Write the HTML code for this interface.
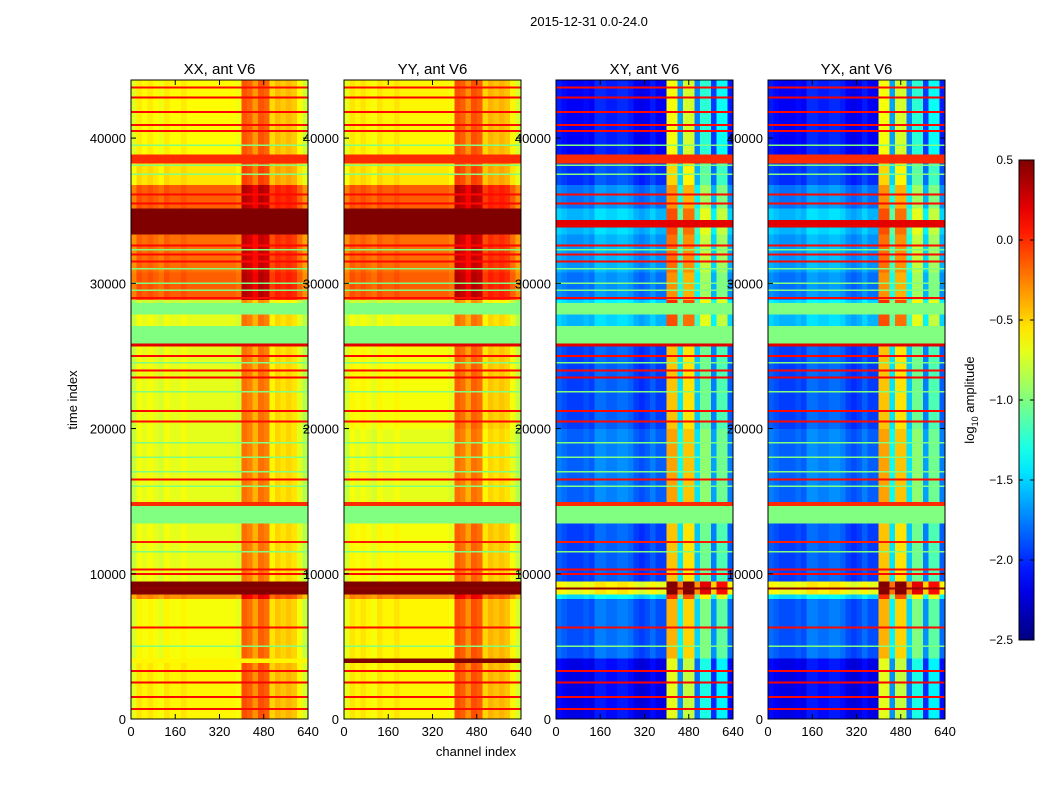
<!DOCTYPE html>
<html><head><meta charset="utf-8">
<style>
body{margin:0;background:#fff;}
svg{display:block;font-family:"Liberation Sans",sans-serif;}
</style></head>
<body>
<svg id="fig" width="1050" height="800" xmlns="http://www.w3.org/2000/svg">
<text x="589" y="26" text-anchor="middle" font-size="13">2015-12-31 0.0-24.0</text>
</svg>
<script>
// ---- data ----
const panelTitles = ["XX, ant V6","YY, ant V6","XY, ant V6","YX, ant V6"];
const panelKinds = ["xx","yy","cr","cr"];
const xTicks = [0,160,320,480,640];
const yTicks = [0,10000,20000,30000,40000];
const cbTicks = [0.5,0.0,-0.5,-1.0,-1.5,-2.0,-2.5];
const cbLabels = ["0.5","0.0","\u22120.5","\u22121.0","\u22121.5","\u22122.0","\u22122.5"];
// column offsets, 32 bins of 20 channels
const coCols = [-0.1,0.05,0,0.05,0,-0.05,0.05,0,0,0.05,0,0,0,0,0,0,0,0,0,-0.05,0.5,0.45,0.3,0.5,0.45,0.1,0.2,0.15,0.2,0.15,0,-0.15];
const crCols = [0.1,0.05,0,0,0,0.05,0,0.15,0.15,0.1,0.1,0.15,0.15,0.1,0,-0.05,0,0.1,0,0,1.5,1.5,0.5,1.4,1.4,0.4,0.9,0.9,0.2,0.8,0.8,0.1];
// time bands: start, end
const bandStart = [0,3900,4200,8300,8600,9500,13500,14700,15000,20000,25700,25900,27100,27900,28700,28900,30800,33400,33900,34400,35200,36800,38300,38900];
const bandEnd   = [3900,4200,8300,8600,9500,13500,14700,15000,20000,25700,25900,27100,27900,28700,28900,30800,33400,33900,34400,35200,36800,38300,38900,44000];
const bandXX    = [-0.6,-0.6,-0.65,-0.3,0.5,-0.7,-1.0,0,-0.7,-0.7,0.2,-1.0,-0.7,-1.0,-0.8,-0.15,-0.2,0.5,0.5,0.5,-0.15,-0.55,0,-0.62];
const bandYY    = [-0.6,0.5,-0.6,-0.3,0.5,-0.65,-1.0,0,-0.7,-0.65,0.2,-1.0,-0.7,-1.0,-0.8,-0.15,-0.2,0.5,0.5,0.5,-0.15,-0.55,0,-0.6];
const bandCR    = [-2.2,-2.2,-1.9,-1.5,-0.7,-1.95,-1.0,0,-1.85,-1.95,0.2,-1.0,-1.6,-1.0,-1.5,-1.8,-1.7,-1.6,0.2,-1.6,-1.8,-2.0,0,-2.15];
const bandFlat  = [0,2,0,0,2,0,1,1,0,0,1,1,0,1,0,0,0,2,1,2,0,0,1,0];
// thin flagged lines
const redLines = [700,1500,2500,3300,6300,9000,10000,10300,12200,16500,20500,21200,23500,24000,25000,29000,31500,32000,32600,35500,36100,40500,40900,41800,42800,43500];
const redValues = [0.1,0.1,0.15,0.1,0.1,0.45,0.1,0.1,0.05,0.1,0.1,0.1,0.15,0.1,0.1,0.1,0.1,0.1,0.1,0.1,0.1,0.1,0.1,0.1,0.15,0.1];
const greenLines = [5000,11500,16000,17000,18000,19000,22500,24500,29500,30000,31000,32300,37500,38100,39500];

// ---- scales ----
const NS="http://www.w3.org/2000/svg";
const svg=document.getElementById('fig');
const panelX=[131,344,556,768], pW=177, pTop=80, pBot=719, tMax=44000, chMax=640;
const vMin=-2.5, vMax=0.5;
function yS(t){return pBot-(t/tMax)*(pBot-pTop);}
function xS(px,ch){return px+ch/chMax*pW;}
function jet(v){
  let x=(v-vMin)/(vMax-vMin); x=Math.max(0,Math.min(1,x));
  const c=f=>Math.round(255*Math.max(0,Math.min(1,f)));
  return `rgb(${c(1.5-Math.abs(4*x-3))},${c(1.5-Math.abs(4*x-2))},${c(1.5-Math.abs(4*x-1))})`;
}
function el(tag,attrs,parent){const e=document.createElementNS(NS,tag);for(const k in attrs)e.setAttribute(k,attrs[k]);(parent||svg).appendChild(e);return e;}
function txt(x,y,s,size,anchor,parent){const t=el('text',{x:x,y:y,'font-size':size,'text-anchor':anchor||'middle'},parent);t.textContent=s;return t;}

panelKinds.forEach((kind,pi)=>{
  const px=panelX[pi];
  const g=el('g',{'shape-rendering':'crispEdges'});
  
  
  const base = kind==='xx'?bandXX:(kind==='yy'?bandYY:bandCR);
  const cols = kind==='cr'?crCols:coCols;
  for(let b=0;b<bandStart.length;b++){
    const y0=yS(bandEnd[b]), y1=yS(bandStart[b]);
    const flat = bandFlat[b]===1 || (bandFlat[b]===2 && kind!=='cr');
    for(let c=0;c<cols.length;c++){
      const v = flat?base[b]:base[b]+cols[c];
      const x0=xS(px,c*20), x1=xS(px,(c+1)*20);
      const r=el('rect',{x:x0.toFixed(2),y:y0.toFixed(2),width:(x1-x0+0.6).toFixed(2),height:(y1-y0+0.6).toFixed(2),fill:jet(v)},g);
      
      
    }
  }
  greenLines.forEach(t=>{
    const r=el('rect',{x:px,y:(yS(t)-1).toFixed(2),width:pW,height:1.5,fill:jet(-1.0)},g);
    
    
  });
  redLines.forEach((t,i)=>{
    const r=el('rect',{x:px,y:(yS(t)-1).toFixed(2),width:pW,height:2,fill:jet(redValues[i])},g);
    
    
  });
  const fr=el('rect',{x:px,y:pTop,width:pW,height:pBot-pTop,fill:'none',stroke:'#000','stroke-width':1});
  
  
  const tt=txt(px+pW/2,74,panelTitles[pi],15);
  
  
  xTicks.forEach(v=>{
    const x=xS(px,v);
    el('line',{x1:x,x2:x,y1:pBot,y2:pBot-5,stroke:'#000'});
    el('line',{x1:x,x2:x,y1:pTop,y2:pTop+5,stroke:'#000'});
    const l=txt(x,736,String(v),13);
    
    
  });
  yTicks.forEach(v=>{
    const y=yS(v);
    el('line',{x1:px,x2:px+5,y1:y,y2:y,stroke:'#000'});
    el('line',{x1:px+pW,x2:px+pW-5,y1:y,y2:y,stroke:'#000'});
    const l=txt(px-5,y+5,String(v),13,'end');
    
    
  });
});

const yt=txt(77,400,'time index',13);
yt.setAttribute('transform','rotate(-90 77 400)');


const xt=txt(476,756,'channel index',13);



// colorbar
const defs=el('defs',{});
const grad=el('linearGradient',{id:'jetg',x1:0,y1:1,x2:0,y2:0},defs);
for(let i=0;i<=20;i++){el('stop',{offset:(i/20),'stop-color':jet(vMin+(vMax-vMin)*i/20)},grad);}
const cbX=1019,cbW=15,cbTop=160,cbBot=640;
const cb=el('rect',{x:cbX,y:cbTop,width:cbW,height:cbBot-cbTop,fill:'url(#jetg)',stroke:'#000'});


cbTicks.forEach((v,i)=>{
  const y=cbBot-(v-vMin)/(vMax-vMin)*(cbBot-cbTop);
  el('line',{x1:cbX,x2:cbX+4,y1:y,y2:y,stroke:'#000'});
  el('line',{x1:cbX+cbW,x2:cbX+cbW-4,y1:y,y2:y,stroke:'#000'});
  const l=txt(1013,y+4,cbLabels[i],12,'end');
  
  
});
const cl=el('text',{x:974,y:400,'font-size':13,'text-anchor':'middle',transform:'rotate(-90 974 400)'});
cl.innerHTML='log<tspan font-size="9" dy="4">10</tspan><tspan dy="-4"> amplitude</tspan>';


</script>
</body></html>
